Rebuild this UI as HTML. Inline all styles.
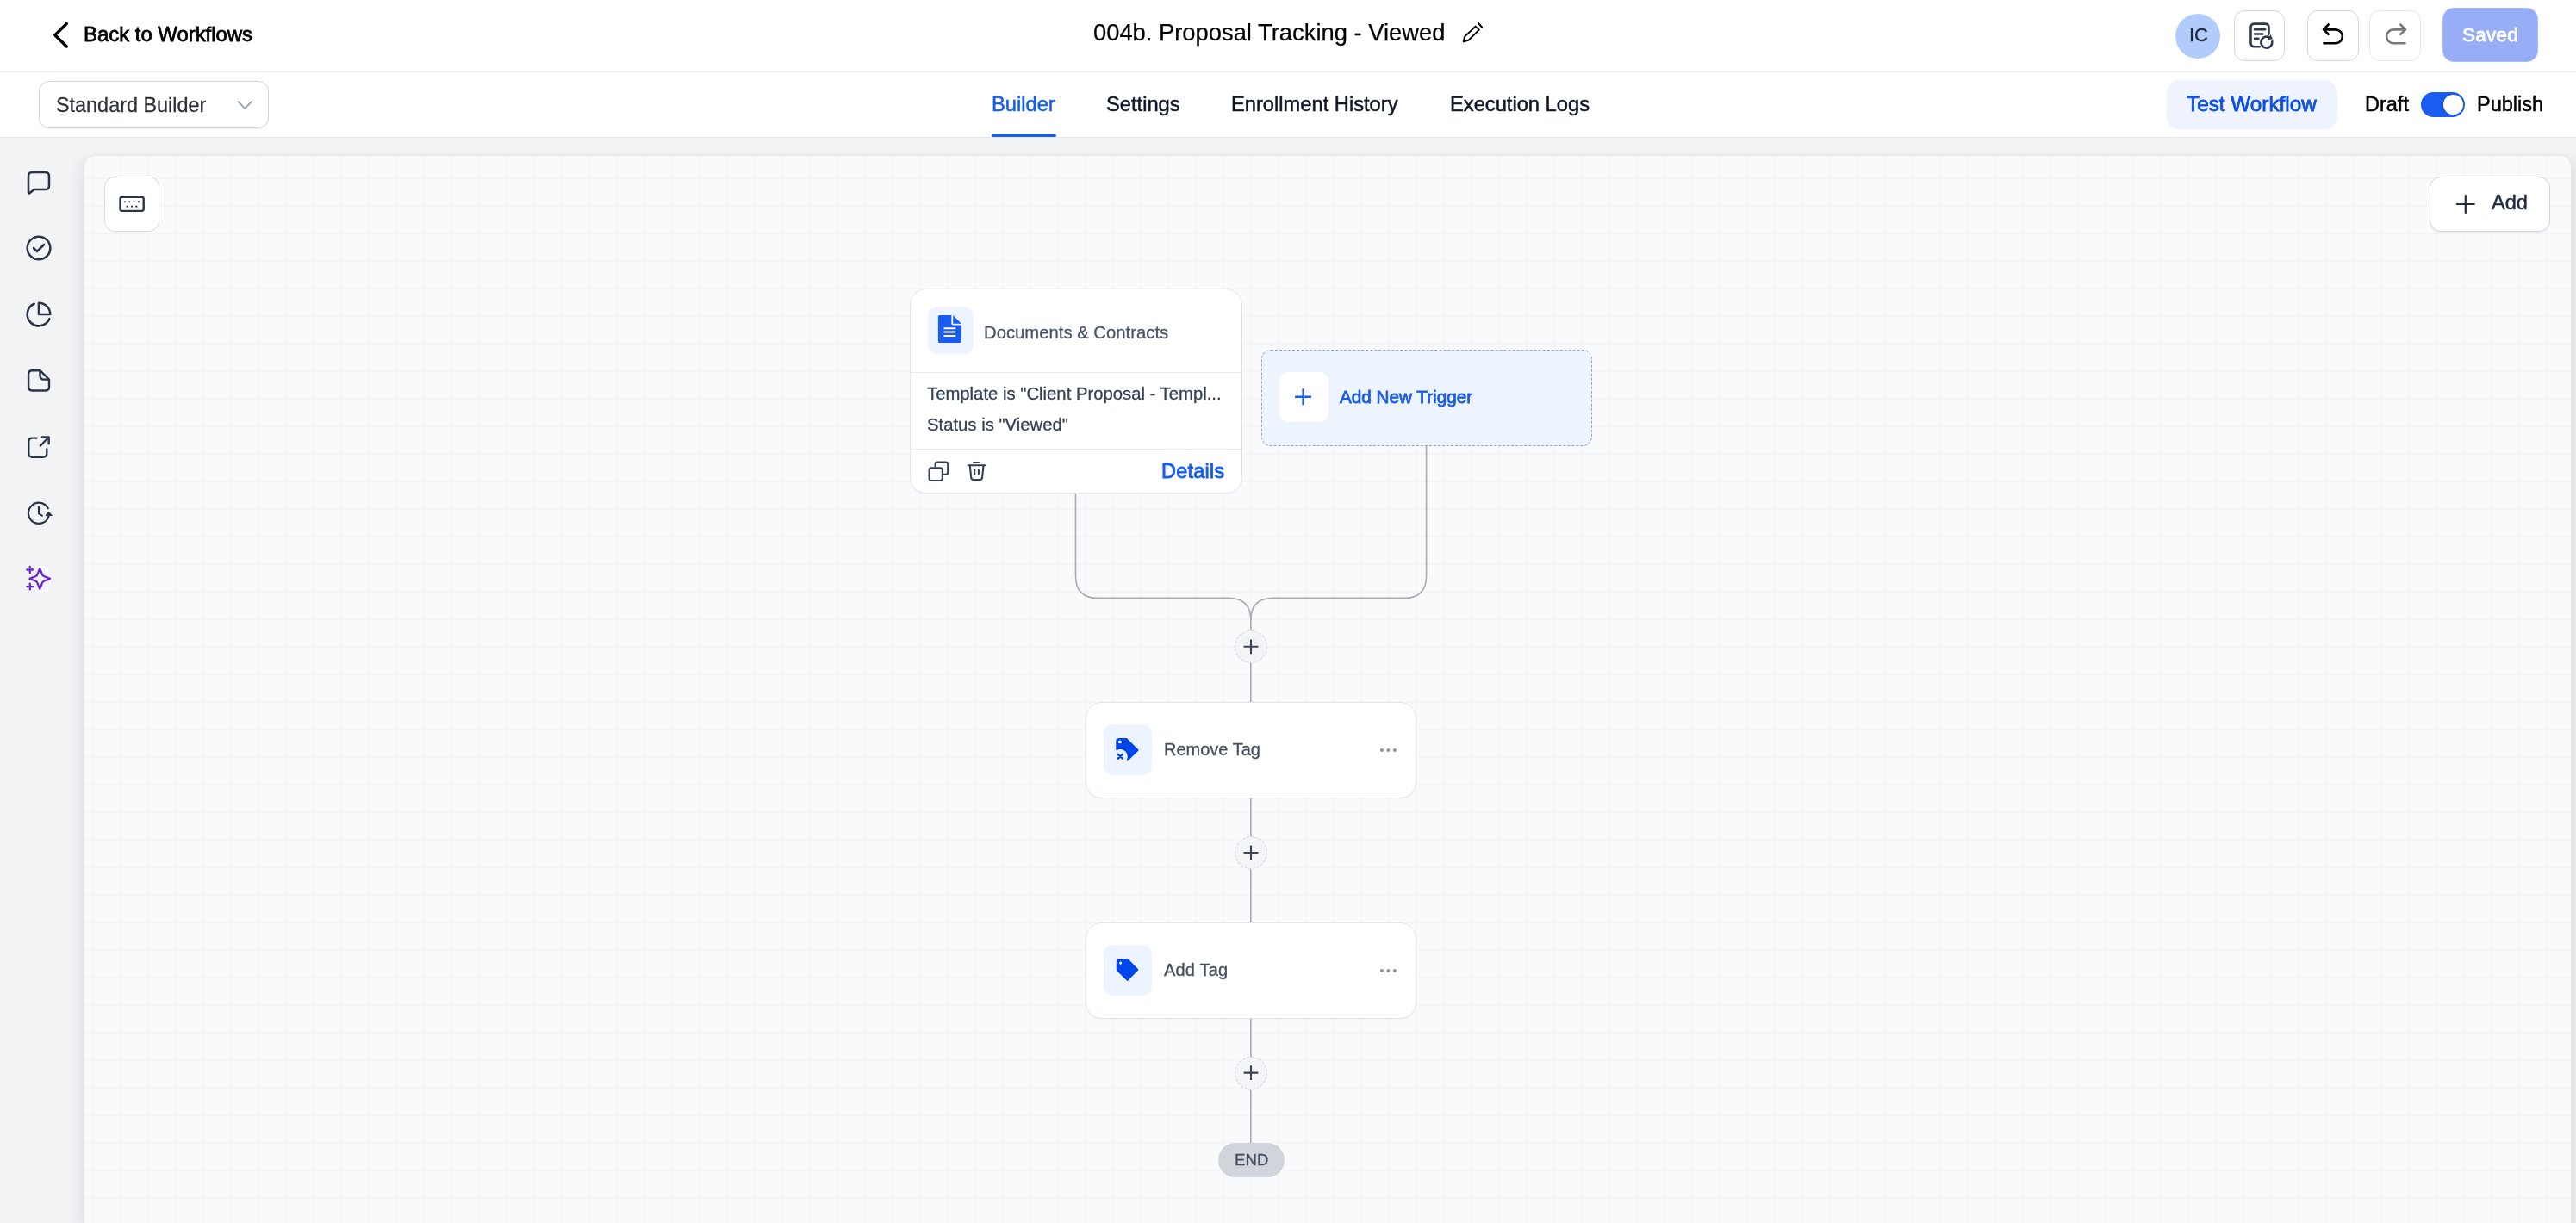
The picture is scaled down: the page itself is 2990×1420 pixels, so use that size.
<!DOCTYPE html>
<html><head><meta charset="utf-8">
<style>
*{margin:0;padding:0;box-sizing:border-box;}
html,body{width:2990px;height:1420px;overflow:hidden;background:#f2f3f5;font-family:"Liberation Sans",sans-serif;}
.a{position:absolute;}
.t{position:absolute;line-height:1;white-space:nowrap;will-change:transform;}
.m{-webkit-text-stroke:0.5px currentColor;}
.r{-webkit-text-stroke:0.28px currentColor;}
svg{position:absolute;overflow:visible;}
#hdr{left:0;top:0;width:2990px;height:84px;background:#fff;border-bottom:1px solid #e6e8ec;}
#hdr2{left:0;top:84px;width:2990px;height:76px;background:#fff;border-bottom:1px solid #e6e8ec;}
#canvas{left:97px;top:180px;width:2888px;height:1260px;border-radius:13px 13px 0 0;
  background-color:#f9fafb;
  background-image:linear-gradient(to right, rgba(190,196,208,0.072) 2px, transparent 2px),linear-gradient(to bottom, rgba(190,196,208,0.072) 2px, transparent 2px);
  background-size:32px 32px;background-position:9px 25px;
  border:1px solid #e6e8ec;box-shadow:-10px 0 18px -8px rgba(16,24,40,0.09),10px 0 16px -8px rgba(16,24,40,0.13);}
.btn{position:absolute;background:#fff;border:1.6px solid #d0d5dd;border-radius:12px;}
.card{position:absolute;background:#fff;border:1.4px solid #e3e6eb;border-radius:19px;box-shadow:0 1px 2px rgba(16,24,40,0.035);}
.ibox{position:absolute;background:#eef4ff;border-radius:11px;}
.plus{position:absolute;width:38px;height:38px;border-radius:50%;background:#f2f4f7;border:1.3px dashed #cdd2da;}
</style></head><body>

<!-- header row 1 -->
<div id="hdr" class="a"></div>
<svg style="left:0;top:0" width="100" height="80"><path d="M77.3 27.4 L63.8 40.7 L77.3 54" fill="none" stroke="#000" stroke-width="3.5" stroke-linecap="round" stroke-linejoin="round"/></svg>
<div class="t" style="left:97px;top:27.6px;font-size:23.9px;-webkit-text-stroke:0.8px #000;color:#000;">Back to Workflows</div>

<div class="t" style="left:1269.3px;top:23.6px;font-size:27.35px;-webkit-text-stroke:0.25px #000;color:#000;">004b. Proposal Tracking - Viewed</div>
<svg style="left:0;top:0" width="1" height="1"><g fill="none" stroke="#000" stroke-width="2" stroke-linejoin="round" stroke-linecap="round">
<path d="M1698.8 48.4 L1700 42.6 L1712.6 30.6 L1716.8 34.6 L1704.4 46.9 Z"/><path d="M1715.9 26.9 L1720 31.5"/></g></svg>

<div class="a" style="left:2525px;top:15.5px;width:52px;height:52px;border-radius:50%;background:#b2cbfd;"></div>
<div class="t r" style="left:2540.5px;top:30px;font-size:22px;color:#1d2433;">IC</div>

<div class="btn" style="left:2593px;top:12px;width:59px;height:59px;"></div>
<svg style="left:0;top:0" width="1" height="1"><g fill="none" stroke="#2d3a50" stroke-width="2.6" stroke-linecap="round" stroke-linejoin="round">
<path d="M2622.8 54.2 H2617 Q2612.5 54.2 2612.5 49.7 V32 Q2612.5 27.6 2617 27.6 H2629 Q2633.5 27.6 2633.5 32 V39.6"/>
<path d="M2617 34.3 H2629.2 M2617 39.5 H2626.3 M2617 44.9 H2621.4"/>
<path d="M2637.3 48.4 A6.5 6.5 0 1 1 2634.6 43.8"/></g>
<path d="M2635.4 40 L2638 45.6 L2632.3 46 Z" fill="#2d3a50"/></svg>

<div class="btn" style="left:2678px;top:12px;width:60px;height:59px;"></div>
<svg style="left:0;top:0" width="1" height="1"><g fill="none" stroke="#000" stroke-width="2.6" stroke-linecap="round" stroke-linejoin="round">
<path d="M2697.5 34.4 H2711 A7.9 7.9 0 0 1 2711 50.2 H2697.5"/><path d="M2702.6 28.5 L2697 34.4 L2702.6 39.8"/></g></svg>

<div class="btn" style="left:2750px;top:12px;width:60px;height:59px;border-color:#e4e7ec;"></div>
<svg style="left:0;top:0" width="1" height="1"><g fill="none" stroke="#7a7a7a" stroke-width="2.6" stroke-linecap="round" stroke-linejoin="round">
<path d="M2791.5 34.4 H2778 A7.9 7.9 0 0 0 2778 50.2 H2791.5"/><path d="M2786.4 28.5 L2792 34.4 L2786.4 39.8"/></g></svg>

<div class="a" style="left:2835px;top:9px;width:111px;height:63px;border-radius:13px;background:#97adf6;border:1px solid #a9bcf8;"></div>
<div class="t" style="left:2857.8px;top:30.3px;font-size:22.5px;letter-spacing:0.25px;-webkit-text-stroke:0.8px #fff;color:#fff;">Saved</div>

<!-- header row 2 -->
<div id="hdr2" class="a"></div>
<div class="a" style="left:45px;top:94px;width:267px;height:55px;border:1.6px solid #d0d5dd;border-radius:12px;background:#fff;box-shadow:0 1px 2px rgba(16,24,40,0.05);"></div>
<div class="t r" style="left:64.5px;top:111px;font-size:23.4px;color:#2c3038;">Standard Builder</div>
<svg style="left:0;top:0" width="1" height="1"><path d="M276.5 118 L284.3 125.8 L292 118" fill="none" stroke="#98a2b3" stroke-width="1.8" stroke-linecap="round" stroke-linejoin="round"/></svg>

<div class="t m" style="left:1150.5px;top:109.6px;font-size:23.7px;color:#155eef;">Builder</div>
<div class="a" style="left:1151px;top:156px;width:75px;height:3px;border-radius:2px;background:#155eef;"></div>
<div class="t m" style="left:1283.5px;top:109.6px;font-size:23.7px;color:#101828;">Settings</div>
<div class="t m" style="left:1428.5px;top:109.6px;font-size:23.7px;color:#101828;">Enrollment History</div>
<div class="t m" style="left:1683px;top:109.6px;font-size:23.7px;color:#101828;">Execution Logs</div>

<div class="a" style="left:2515px;top:93px;width:198px;height:57px;border-radius:15px;background:#eef3fe;box-shadow:0 1px 2px rgba(16,24,40,0.04);"></div>
<div class="t" style="left:2537.5px;top:109.1px;font-size:24.3px;-webkit-text-stroke:0.8px #0b4fe8;color:#0b4fe8;">Test Workflow</div>
<div class="t m" style="left:2744.5px;top:110.1px;font-size:23.5px;color:#000;">Draft</div>
<div class="a" style="left:2810px;top:107px;width:51px;height:29px;border-radius:15px;background:#1a5cf0;"></div>
<div class="a" style="left:2835.5px;top:109.8px;width:23.3px;height:23.3px;border-radius:50%;background:#fff;box-shadow:-2px 0 3px rgba(0,0,0,0.15);"></div>
<div class="t m" style="left:2874.5px;top:110.1px;font-size:23.5px;color:#000;">Publish</div>


<!-- sidebar icons -->
<svg style="left:29px;top:196px" width="32" height="32" viewBox="0 0 24 24"><path d="M3 7.8C3 6.12 3 5.28 3.327 4.638a3 3 0 0 1 1.311-1.311C5.28 3 6.12 3 7.8 3h8.4c1.68 0 2.52 0 3.162.327a3 3 0 0 1 1.311 1.311C21 5.28 21 6.12 21 7.8v5.4c0 1.68 0 2.52-.327 3.162a3 3 0 0 1-1.311 1.311C18.72 18 17.88 18 16.2 18H9.684c-.624 0-.936 0-1.235.061a3 3 0 0 0-.761.267c-.272.139-.51.329-.997.718l-2.385 1.908c-.416.333-.624.5-.799.5a.5.5 0 0 1-.391-.188C3 21.129 3 20.867 3 20.333V7.8Z" fill="none" stroke="#2b3548" stroke-width="1.9" stroke-linecap="round" stroke-linejoin="round"/></svg>
<svg style="left:29px;top:272px" width="32" height="32" viewBox="0 0 24 24"><g fill="none" stroke="#2b3548" stroke-width="1.9" stroke-linecap="round" stroke-linejoin="round"><circle cx="12" cy="12" r="10"/><path d="m7.5 12 3 3 6-6"/></g></svg>
<svg style="left:29px;top:349px" width="32" height="32" viewBox="0 0 24 24"><g fill="none" stroke="#2b3548" stroke-width="1.9" stroke-linecap="round" stroke-linejoin="round"><path d="M21.21 15.89A10 10 0 1 1 8 2.83"/><path d="M22 12A10 10 0 0 0 12 2v10z"/></g></svg>
<svg style="left:0;top:0" width="1" height="1"><path d="M46.5 430.2 H37.3 Q33.1 430.2 33.1 434.4 V449.3 Q33.1 453.5 37.3 453.5 H52.8 Q57 453.5 57 449.3 V440.6 Z M46.5 430.2 V436 Q46.5 440.6 51 440.6 H57" fill="none" stroke="#2b3548" stroke-width="2.4" stroke-linecap="round" stroke-linejoin="round"/></svg>
<svg style="left:0;top:0" width="1" height="1"><g fill="none" stroke="#2b3548" stroke-width="2.4" stroke-linecap="round" stroke-linejoin="round"><path d="M42.5 508.6 H37.5 Q33.3 508.6 33.3 512.8 V526.6 Q33.3 530.8 37.5 530.8 H50.1 Q54.3 530.8 54.3 526.6 V521.5"/><path d="M47 517.5 L56.6 507.5 M48.8 507.5 H56.6 V515.2"/></g></svg>
<svg style="left:0;top:0" width="1" height="1"><g fill="none" stroke="#2b3548" stroke-width="2.2" stroke-linecap="round" stroke-linejoin="round"><path d="M55.80 590.32 A12.07 12.07 0 1 0 56.90 598.10"/><path d="M45 588.6 V596.4 L48.8 598.6"/></g><path d="M56.5 594.6 L60.1 598.4 L53.3 598.4 Z" fill="#2b3548" stroke="#2b3548" stroke-width="1.2" stroke-linejoin="round"/></svg>
<svg style="left:0;top:0" width="1" height="1"><g fill="none" stroke="#6a25d9" stroke-width="2.3" stroke-linecap="round" stroke-linejoin="round"><path d="M46.20 660.10 L49.10 667.20 Q49.65 668.45 50.90 669.00 L58.00 671.90 L50.90 674.80 Q49.65 675.35 49.10 676.60 L46.20 683.70 L43.30 676.60 Q42.75 675.35 41.50 674.80 L34.40 671.90 L41.50 669.00 Q42.75 668.45 43.30 667.20 Z"/><path d="M34.8 658 V665 M31.3 661.5 H38.3 M34.8 677.6 V684.6 M31.3 681.1 H38.3"/></g></svg>

<!-- canvas -->
<div id="canvas" class="a"></div>

<!-- keyboard button -->
<div class="btn" style="left:121px;top:205px;width:64px;height:64px;border-radius:12px;border-color:#d5d9e0;"></div>
<svg style="left:0;top:0" width="1" height="1"><rect x="139.5" y="228.7" width="27.2" height="16.2" rx="2.3" fill="none" stroke="#2b3548" stroke-width="2.4"/>
<g fill="#2b3548"><circle cx="144.9" cy="234.3" r="1.1"/><circle cx="150.3" cy="234.3" r="1.1"/><circle cx="155.6" cy="234.3" r="1.1"/><circle cx="161" cy="234.3" r="1.1"/><circle cx="147.6" cy="239.7" r="1.1"/><circle cx="153" cy="239.7" r="1.1"/><circle cx="158.3" cy="239.7" r="1.1"/></g></svg>

<!-- add button -->
<div class="btn" style="left:2820px;top:205px;width:140px;height:64px;border-radius:13px;border-color:#cfd5de;box-shadow:0 1px 2px rgba(16,24,40,0.05);"></div>
<svg style="left:0;top:0" width="1" height="1"><path d="M2861.8 227 V247 M2851.8 237 H2871.8" stroke="#1f2b3d" stroke-width="2.2" stroke-linecap="round"/></svg>
<div class="t m" style="left:2892px;top:224px;font-size:23.6px;color:#1f2b3d;">Add</div>

<!-- connectors -->
<svg style="left:0;top:0" width="1" height="1"><g fill="none" stroke="#a9acb3" stroke-width="1.6">
<path d="M1248.5 572 V668.4 Q1248.5 694.4 1274.5 694.4 H1426 Q1451.8 694.4 1451.8 720 V731"/>
<path d="M1655.6 517 V668.4 Q1655.6 694.4 1629.6 694.4 H1477.6 Q1451.8 694.4 1451.8 720"/>
<path d="M1451.8 770 V815.5 M1451.8 926 V971 M1451.8 1009 V1071.5 M1451.8 1182 V1227 M1451.8 1265 V1327"/>
</g></svg>

<!-- trigger card -->
<div class="card" style="left:1056px;top:335px;width:385.5px;height:237.5px;"></div>
<div class="a" style="left:1057px;top:431.7px;width:383.5px;height:1.6px;background:#eaecf0;"></div>
<div class="a" style="left:1057px;top:520.5px;width:383.5px;height:1.6px;background:#eaecf0;"></div>
<div class="ibox" style="left:1077px;top:356.2px;width:52.5px;height:54.7px;"></div>
<svg style="left:0;top:0" width="1" height="1"><path d="M1090.5 366 H1104.3 V375.6 Q1104.3 377.6 1106.3 377.6 H1115.9 V396.3 Q1115.9 398.1 1114.1 398.1 H1090.5 Q1088.9 398.1 1088.9 396.5 V367.6 Q1088.9 366 1090.5 366 Z M1106.2 366.2 L1115.9 375.8 H1106.2 Z" fill="#1a5cf0"/>
<g stroke="#fff" stroke-width="2"><path d="M1095.5 381.2 H1109.3 M1095.5 385.6 H1109.3 M1095.5 390 H1109.3"/></g></svg>
<div class="t r" style="left:1142px;top:375.5px;font-size:20.3px;color:#475467;">Documents &amp; Contracts</div>
<div class="t r" style="left:1076px;top:446.8px;font-size:20.3px;color:#344054;">Template is "Client Proposal - Templ...</div>
<div class="t r" style="left:1076px;top:482.8px;font-size:20.3px;color:#344054;">Status is "Viewed"</div>
<svg style="left:0;top:0" width="1" height="1"><g fill="none" stroke="#344054" stroke-width="2.1" stroke-linejoin="round" stroke-linecap="round">
<path d="M1085.6 541.5 V539 Q1085.6 536.6 1088 536.6 H1097.6 Q1100.2 536.6 1100.2 539 V548.4 Q1100.2 550.9 1097.6 550.9 H1094"/>
<rect x="1078.6" y="543.4" width="15.2" height="14.6" rx="2.4"/>
<path d="M1123.6 540.2 H1143.2 M1130 537 H1136.8"/>
<path d="M1125.8 540.6 L1127.2 554.4 Q1127.5 557 1130 557 H1137.3 Q1139.8 557 1140.1 554.4 L1141.5 540.6"/>
<path d="M1131.2 545.6 V550.3 M1135.9 545.6 V550.3"/></g></svg>
<div class="t" style="left:1348.3px;top:535.9px;font-size:23.4px;letter-spacing:0.3px;-webkit-text-stroke:0.85px #155eef;color:#155eef;">Details</div>

<!-- add new trigger -->
<div class="a" style="left:1464px;top:406px;width:384px;height:111.5px;border-radius:11px;background:#eef4fd;border:1.6px dashed #87a5f3;"></div>
<div class="a" style="left:1485px;top:431.8px;width:56.5px;height:58.7px;border-radius:10px;background:#fff;"></div>
<svg style="left:0;top:0" width="1" height="1"><path d="M1512.6 451.3 V470.2 M1503.1 460.7 H1522.1" stroke="#1d5ce6" stroke-width="2.4"/></svg>
<div class="t" style="left:1555px;top:450.5px;font-size:20.7px;-webkit-text-stroke:0.8px #1d5ce6;color:#1d5ce6;">Add New Trigger</div>

<!-- plus buttons -->
<div class="plus" style="left:1433px;top:731.5px;"></div>
<div class="plus" style="left:1433px;top:971px;"></div>
<div class="plus" style="left:1433px;top:1226.5px;"></div>
<svg style="left:0;top:0" width="1" height="1"><g stroke="#3a4455" stroke-width="2.1">
<path d="M1452 742.4 V759.2 M1443.6 750.8 H1460.4"/>
<path d="M1452 981.6 V998.4 M1443.6 990 H1460.4"/>
<path d="M1452 1237.2 V1254 M1443.6 1245.6 H1460.4"/></g></svg>

<!-- remove tag card -->
<div class="card" style="left:1259.8px;top:815px;width:384px;height:111.5px;"></div>
<div class="ibox" style="left:1281px;top:841.2px;width:56.3px;height:58.8px;"></div>
<svg style="left:0;top:0" width="1" height="1"><path d="M1296.3 860.4 Q1296.3 858 1298.7 858 H1307.4 L1320.5 871 L1308.7 882.4 L1296.3 870 Z" fill="#0046e8" stroke="#0046e8" stroke-width="2.1" stroke-linejoin="round"/>
<circle cx="1299.9" cy="861.4" r="1.9" fill="#eef4ff"/>
<circle cx="1300.3" cy="878.4" r="8.5" fill="#eef4ff"/>
<path d="M1297.6 875.7 L1303.1 880.9 M1303.1 875.7 L1297.6 880.9" stroke="#0046e8" stroke-width="2.3" stroke-linecap="round"/></svg>
<div class="t r" style="left:1350.5px;top:860.4px;font-size:20px;color:#434e5f;">Remove Tag</div>
<svg style="left:0;top:0" width="1" height="1"><g fill="#8b93a3"><circle cx="1603.9" cy="871" r="2"/><circle cx="1611.4" cy="871" r="2"/><circle cx="1618.9" cy="871" r="2"/></g></svg>

<!-- add tag card -->
<div class="card" style="left:1259.8px;top:1071px;width:384px;height:111.5px;"></div>
<div class="ibox" style="left:1281px;top:1097.2px;width:56.3px;height:58.8px;"></div>
<svg style="left:0;top:0" width="1" height="1"><path d="M1296.8 1116.6 Q1296.8 1114.4 1299 1114.4 H1309.2 L1320.4 1125.9 L1308.6 1137.9 L1296.8 1126.2 Z" fill="#0046e8" stroke="#0046e8" stroke-width="2" stroke-linejoin="round"/>
<circle cx="1300.6" cy="1118.1" r="1.6" fill="#eef4ff"/></svg>
<div class="t r" style="left:1350.5px;top:1115.8px;font-size:20px;letter-spacing:0.2px;color:#434e5f;">Add Tag</div>
<svg style="left:0;top:0" width="1" height="1"><g fill="#8b93a3"><circle cx="1603.9" cy="1127" r="2"/><circle cx="1611.4" cy="1127" r="2"/><circle cx="1618.9" cy="1127" r="2"/></g></svg>

<!-- END -->
<div class="a" style="left:1413.7px;top:1327px;width:77px;height:40px;border-radius:20px;background:#d0d4db;"></div>
<div class="t r" style="left:1432.5px;top:1338.2px;font-size:18.5px;letter-spacing:0.1px;color:#434c5c;">END</div>

</body></html>
